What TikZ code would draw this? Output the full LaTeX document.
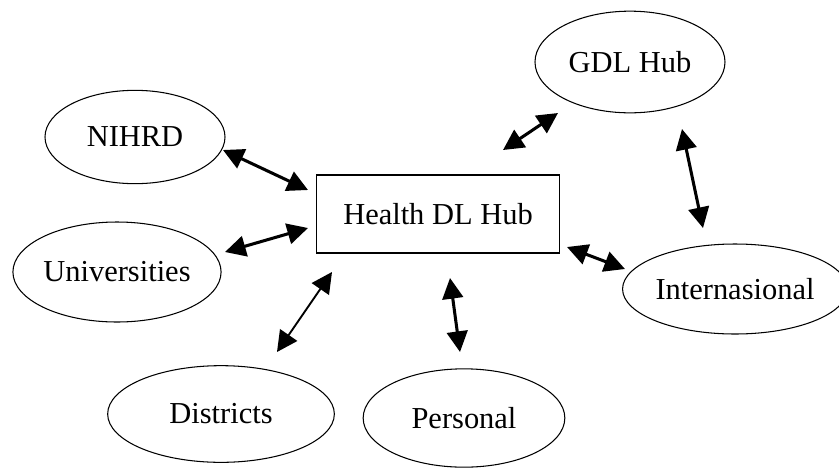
\documentclass[tikz,border=0pt]{standalone}
\usepackage{fontspec}
\setmainfont{Liberation Serif}
\usetikzlibrary{arrows.meta, shapes.geometric, positioning}

\begin{document}
\begin{tikzpicture}[
            x = 0.03cm,
            y = -0.03cm,
            >= {Triangle[length=0.62cm, width=0.62cm]},
            site/.style = {ellipse, draw, line width=0.9pt, inner sep=0pt,
                           font=\fontsize{26}{30}\selectfont},
            hubbox/.style = {rectangle, draw, line width=1.2pt, inner sep=0pt,
                             minimum width=7.3cm, minimum height=2.35cm,
                             font=\fontsize{26}{30}\selectfont},
            link/.style = {<->, line width=2.6pt}
        ]

        \useasboundingbox (0,0) rectangle (839,468);

        \node[hubbox] (hub) at (438,214) {Health DL Hub};

        \node[site, minimum width=5.4cm,  minimum height=2.8cm]  (nihrd) at (135,137) {NIHRD};
        \node[site, minimum width=5.7cm,  minimum height=3.05cm] (gdl)   at (630,62)  {GDL Hub};
        \node[site, minimum width=6.15cm, minimum height=3.0cm]  (univ)  at (117,272) {Universities};
        \node[site, minimum width=6.0cm,  minimum height=2.7cm]  (intl)  at (735,289) {Internasional};
        \node[site, minimum width=6.8cm,  minimum height=2.9cm]  (dist)  at (221,414) {Districts};
        \node[site, minimum width=6.05cm, minimum height=2.95cm] (pers)  at (464,418) {Personal};

        % arrow ends
        \coordinate (nihrdA) at (223,150);  \coordinate (nihrdB) at (308,190);
        \coordinate (univA)  at (225,252);  \coordinate (univB)  at (308,228);
        \coordinate (gdlA)   at (503,150);  \coordinate (gdlB)   at (558,113);
        \coordinate (intlA)  at (682,129);  \coordinate (intlB)  at (703,228);
        \coordinate (hubA)   at (567,247);  \coordinate (hubB)   at (625,269);
        \coordinate (distA)  at (332,272);  \coordinate (distB)  at (277,352);
        \coordinate (persA)  at (450,278);  \coordinate (persB)  at (460,352);

        \draw[link] (nihrdA) -- (nihrdB);
        \draw[link] (univA)  -- (univB);
        \draw[link] (gdlA)   -- (gdlB);
        \draw[link] (intlA)  -- (intlB);
        \draw[link] (hubA)   -- (hubB);
        \draw[link, line width=1.6pt] (distA) -- (distB);
        \draw[link] (persA)  -- (persB);
    \end{tikzpicture}
\end{document}
